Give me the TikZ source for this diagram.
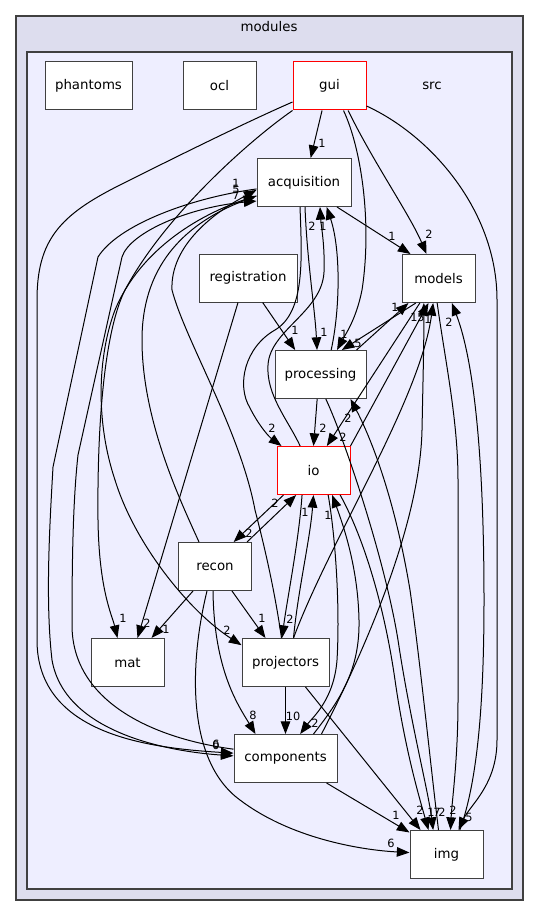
\documentclass[tikz,border=0pt]{standalone}
\usepackage{fontspec}
\setmainfont{DejaVu Sans}
\usetikzlibrary{arrows.meta}
\definecolor{modfill}{HTML}{DDDDEE}
\definecolor{srcfill}{HTML}{EEEEFF}
\definecolor{frame}{HTML}{404040}

\begin{document}
\begin{tikzpicture}[x=0.75pt,y=-0.75pt,>={Triangle[length=9.5pt,width=7.2pt]},
	cluster/.style={draw=frame,line width=0.9pt},
	dirbox/.style={draw=frame,fill=white,line width=0.75pt,minimum height=36pt,inner sep=0pt,font=\fontsize{10}{12}\selectfont},
	hotbox/.style={dirbox,draw=red},
	dep/.style={->,line width=0.75pt},
	lab/.style={inner sep=0pt,font=\fontsize{8.5}{10}\selectfont}]
	\useasboundingbox (0,0) rectangle (536,916);
	% clusters
	\draw[cluster,fill=modfill] (16,16) rectangle (523,900);
	\draw[cluster,fill=srcfill] (27,52) rectangle (512,889);
	\node (modules) at (269,27) [font=\fontsize{10}{12}\selectfont] {modules};
	\node (src) at (432,86) [font=\fontsize{10}{12}\selectfont] {src};
	% directories
	\node (phantoms) at ( 88.5, 86)	[dirbox, minimum width=65.25pt]	{phantoms};
	\node (ocl)      at (219.5, 86)	[dirbox, minimum width=54.75pt]	{ocl};
	\node (gui)      at (329.5, 86)	[hotbox, minimum width=54.75pt]	{gui};
	\node (acq)      at (304,182.5)	[dirbox, minimum width=70.5pt]	{acquisition};
	\node (reg)      at (248,278)	[dirbox, minimum width=73.5pt]	{registration};
	\node (models)   at (438.5,278.5)	[dirbox, minimum width=54.75pt]	{models};
	\node (proc)     at (320.5,374.5)	[dirbox, minimum width=68.25pt]	{processing};
	\node (io)       at (313.5,470.5)	[hotbox, minimum width=54.75pt]	{io};
	\node (recon)    at (215,566.5)	[dirbox, minimum width=54.75pt]	{recon};
	\node (mat)      at (127.5,662.5)	[dirbox, minimum width=54.75pt]	{mat};
	\node (proj)     at (285.5,662.5)	[dirbox, minimum width=65.25pt]	{projectors};
	\node (comp)     at (285.5,758.5)	[dirbox, minimum width=77.25pt]	{components};
	\node (img)      at (446.5,854.5)	[dirbox, minimum width=54.75pt]	{img};
	% gui
	\draw[dep] ([xshift=-5.6pt]gui.south) -- ([xshift=5pt]acq.north) node[lab] at (322,143) {1};
	\draw[dep] ([xshift=14pt]gui.south) .. controls (372,160) and (410,215) .. ([xshift=-9pt]models.north) node[lab] at (429,234) {2};
	\draw[dep] ([xshift=10.5pt]gui.south) .. controls (362,150) and (372,225) .. (362,290) .. controls (356,320) and (345,335) .. ([xshift=12.4pt]proc.north) node[lab] at (344,334) {1};
	\draw[dep] ([yshift=-15pt]gui.east) .. controls (430,135) and (497,210) .. (497,300) -- (497,740) .. controls (497,785) and (470,805) .. ([xshift=9pt]img.north) node[lab] at (469,817) {5};
	\draw[dep] ([yshift=-12pt]gui.west) .. controls (240,125) and (170,160) .. (120,185) .. controls (60,215) and (37,240) .. (37,300) -- (37,640) .. controls (37,735) and (150,748) .. ([yshift=4pt]comp.west) node[lab] at (216,745) {0};
	\draw[dep] (gui.south west) .. controls (250,140) and (165,215) .. (125,290) .. controls (105,330) and (97,420) .. (98,520) .. controls (99,590) and (112,615) .. ([xshift=-7.5pt]mat.north) node[lab] at (123,618) {1};
	% acquisition
	\draw[dep] ([xshift=24.75pt]acq.south) -- ([xshift=-21pt]models.north) node[lab] at (392,236) {1};
	\draw[dep] ([xshift=0.75pt]acq.south) .. controls (307,260) and (315,310) .. ([xshift=-2.6pt]proc.north) node[lab] at (324,332) {1};
	\draw[dep] ([xshift=-3pt]acq.south) .. controls (302,260) and (305,312) .. (275,330) .. controls (245,347) and (236,385) .. (250,408) .. controls (258,424) and (268,436) .. ([xshift=-24pt]io.north) node[lab] at (272,428) {2};
	\draw[dep] (acq) .. controls (190,198) and (118,225) .. (98,257) -- (53,467) .. controls (50,520) and (45,600) .. (52,660) .. controls (65,735) and (175,752) .. ([yshift=2pt]comp.west) node[lab] at (216,744) {6};
	\draw[dep] (acq) .. controls (200,212) and (140,250) .. (115,310) .. controls (98,355) and (95,420) .. (115,480) .. controls (135,545) and (190,612) .. ([yshift=13pt]proj.west) node[lab] at (227,630) {2};
	% into acquisition from below
	\draw[dep] ([xshift=-10pt]io.north) .. controls (288,420) and (266,395) .. (268,365) .. controls (270,330) and (322,312) .. (324,272) .. controls (325,245) and (321,225) .. ([xshift=12pt]acq.south) node[lab] at (312,226) {2};
	\draw[dep] ([xshift=8pt]proc.north) .. controls (340,310) and (341,250) .. ([xshift=17pt]acq.south) node[lab] at (323,226) {1};
	\draw[dep] ([xshift=-3pt]proj.north) .. controls (276,600) and (268,560) .. (255,510) .. controls (240,430) and (185,340) .. (172,290) .. controls (170,245) and (215,212) .. ([yshift=-5.6pt]acq.west) node[lab] at (236,183) {1};
	\draw[dep] ([xshift=-12pt]recon.north) .. controls (180,500) and (142,420) .. (142,340) .. controls (142,270) and (180,225) .. ([yshift=-10pt]acq.west) node[lab] at (236,189) {5};
	\draw[dep] ([yshift=7pt]comp.west) .. controls (150,738) and (72,700) .. (72,625) .. controls (72,560) and (73,500) .. (78,455) -- (122,257) .. controls (130,232) and (190,207) .. ([yshift=-13.9pt]acq.west) node[lab] at (236,195) {7};
	% registration
	\draw[dep] ([xshift=11pt]reg.south) -- ([xshift=-19pt]proc.north) node[lab] at (295,330) {1};
	\draw[dep] ([xshift=-7.5pt]reg.south) -- ([xshift=7.5pt]mat.north) node[lab] at (147,623) {2};
	% models and processing
	\draw[dep] ([xshift=-17pt]models.south) -- ([xshift=16pt]proc.north) node[lab] at (358,343) {5};
	\draw[dep] ([xshift=27pt]proc.north) -- ([xshift=-22.5pt]models.south) node[lab] at (395,307) {1};
	\draw[dep] ([xshift=-2.5pt]proc.south) -- (io.north) node[lab] at (323,428) {2};
	\draw[dep] ([xshift=4pt]proc.south) .. controls (345,440) and (385,560) .. (398,640) .. controls (410,720) and (428,790) .. ([xshift=-10pt]img.north) node[lab] at (437,812) {7};
	\draw[dep] ([xshift=-6pt]img.north) .. controls (430,760) and (420,660) .. (410,590) .. controls (395,500) and (372,440) .. ([xshift=22.5pt]proc.south) node[lab] at (348,418) {2} node[lab] at (442,812) {2};
	\draw[dep] ([xshift=-14pt]models.south) -- ([xshift=10pt]io.north) node[lab] at (343,437) {2};
	\draw[dep] (io.north east) -- ([xshift=-7.5pt]models.south) node[lab] at (428,319) {1};
	\draw[dep] ([xshift=6pt]proj.north) .. controls (330,540) and (420,400) .. ([xshift=-4pt]models.south) node[lab] at (414,317) {1};
	\draw[dep] ([xshift=27pt]comp.north) .. controls (370,640) and (420,520) .. (422,430) .. controls (423,380) and (424,340) .. ([xshift=-11pt]models.south) node[lab] at (421,317) {5};
	\draw[dep] ([xshift=-1pt]models.south) .. controls (445,360) and (458,420) .. (458,480) -- (458,700) .. controls (458,760) and (452,800) .. ([xshift=3pt]img.north) node[lab] at (453,810) {2};
	\draw[dep] ([xshift=10pt]img.north) .. controls (478,780) and (484,700) .. (484,600) .. controls (484,430) and (470,350) .. ([xshift=10pt]models.south) node[lab] at (449,322) {2};
	% io
	\draw[dep] ([xshift=-22.5pt]io.south) -- ([xshift=14pt]recon.north) node[lab] at (249,533) {2};
	\draw[dep] ([xshift=24pt]recon.north) -- ([xshift=-13pt]io.south) node[lab] at (275,503) {2};
	\draw[dep] ([xshift=-8.6pt]io.south) .. controls (299,540) and (287,600) .. ([xshift=-2.6pt]proj.north) node[lab] at (290,619) {2};
	\draw[dep] ([xshift=6pt]proj.north) .. controls (298,590) and (310,540) .. (io.south) node[lab] at (305,512) {1};
	\draw[dep] ([xshift=11pt]io.south) .. controls (336,540) and (340,610) .. (337,660) .. controls (334,700) and (312,718) .. ([xshift=11pt]comp.north) node[lab] at (315,723) {2};
	\draw[dep] ([xshift=21pt]comp.north) .. controls (340,700) and (360,670) .. (359,620) .. controls (358,570) and (345,530) .. ([xshift=14pt]io.south) node[lab] at (328,515) {1};
	\draw[dep] ([xshift=20pt]io.south) .. controls (365,540) and (385,610) .. (395,680) .. controls (405,750) and (420,800) .. ([xshift=-13.5pt]img.north) node[lab] at (431,812) {1};
	% recon
	\draw[dep] ([xshift=-16.5pt]recon.south) -- ([xshift=18pt]mat.north) node[lab] at (166,629) {1};
	\draw[dep] ([xshift=12.75pt]recon.south) -- ([xshift=-15pt]proj.north) node[lab] at (262,618) {1};
	\draw[dep] ([xshift=-1.5pt]recon.south) .. controls (214,670) and (238,705) .. ([xshift=-22.5pt]comp.north) node[lab] at (253,715) {8};
	\draw[dep] ([xshift=-6pt]recon.south) .. controls (190,660) and (185,760) .. (240,800) .. controls (290,838) and (360,850) .. (img) node[lab] at (391,843) {6};
	% projectors and components
	\draw[dep] (proj) -- (comp) node[lab] at (293,716) {10};
	\draw[dep] ([xshift=15pt]proj.south) -- ([xshift=-19.5pt]img.north) node[lab] at (420,810) {2};
	\draw[dep] (comp) -- (img) node[lab] at (396,815) {1};
\end{tikzpicture}
\end{document}
